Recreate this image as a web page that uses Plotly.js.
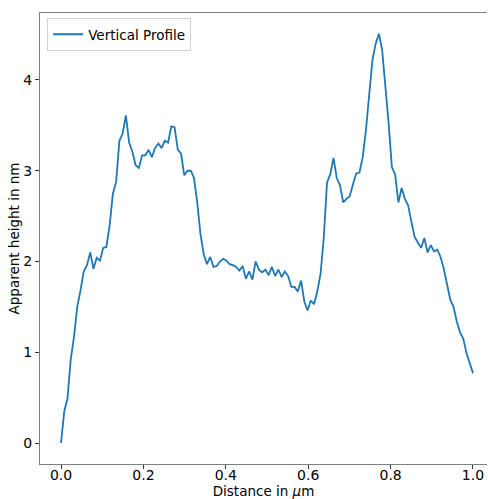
<!DOCTYPE html>
<html>
<head>
<meta charset="utf-8">
<script src="https://cdn.plot.ly/plotly-3.0.1.min.js"></script>
<style>html,body{margin:0;padding:0;background:#fff;}#chart{width:488px;height:499px;}</style>
</head>
<body>
<div id="chart"></div>
<script>
const seriesName = "Vertical Profile";
const distance = [
0.0000,0.0079,0.0157,0.0236,0.0315,0.0394,0.0472,0.0551,0.0630,0.0709,
0.0787,0.0866,0.0945,0.1024,0.1102,0.1181,0.1260,0.1339,0.1417,0.1496,
0.1575,0.1654,0.1732,0.1811,0.1890,0.1969,0.2047,0.2126,0.2205,0.2283,
0.2362,0.2441,0.2520,0.2598,0.2677,0.2756,0.2835,0.2913,0.2992,0.3071,
0.3150,0.3228,0.3307,0.3386,0.3465,0.3543,0.3622,0.3701,0.3780,0.3858,
0.3937,0.4016,0.4094,0.4173,0.4252,0.4331,0.4409,0.4488,0.4567,0.4646,
0.4724,0.4803,0.4882,0.4961,0.5039,0.5118,0.5197,0.5276,0.5354,0.5433,
0.5512,0.5591,0.5669,0.5748,0.5827,0.5906,0.5984,0.6063,0.6142,0.6220,
0.6299,0.6378,0.6457,0.6535,0.6614,0.6693,0.6772,0.6850,0.6929,0.7008,
0.7087,0.7165,0.7244,0.7323,0.7402,0.7480,0.7559,0.7638,0.7717,0.7795,
0.7874,0.7953,0.8031,0.8110,0.8189,0.8268,0.8346,0.8425,0.8504,0.8583,
0.8661,0.8740,0.8819,0.8898,0.8976,0.9055,0.9134,0.9213,0.9291,0.9370,
0.9449,0.9528,0.9606,0.9685,0.9764,0.9843,0.9921,1.0000];
const height = [
0.00,0.35,0.49,0.92,1.17,1.50,1.68,1.89,1.96,2.10,
1.92,2.04,2.01,2.15,2.16,2.40,2.75,2.88,3.33,3.41,
3.61,3.31,3.21,3.06,3.03,3.17,3.17,3.23,3.15,3.25,
3.30,3.25,3.33,3.31,3.49,3.48,3.23,3.19,2.95,3.00,
3.00,2.92,2.65,2.30,2.08,1.97,2.05,1.94,1.95,2.00,
2.03,2.01,1.97,1.96,1.94,1.90,1.95,1.81,1.89,1.80,
2.00,1.91,1.88,1.91,1.85,1.94,1.84,1.91,1.83,1.89,
1.84,1.72,1.72,1.67,1.79,1.56,1.46,1.57,1.53,1.67,
1.86,2.26,2.87,2.96,3.14,2.92,2.84,2.65,2.69,2.72,
2.85,2.97,2.98,3.15,3.45,3.82,4.22,4.40,4.51,4.33,
3.96,3.52,3.04,2.96,2.65,2.81,2.69,2.62,2.44,2.27,
2.21,2.15,2.26,2.10,2.18,2.11,2.13,2.05,1.92,1.76,
1.58,1.50,1.34,1.22,1.15,0.99,0.88,0.77];
const xTicks = [0.0,0.2,0.4,0.6,0.8,1.0];
const yTicks = [0,1,2,3,4];
const xLabel = "Distance in <i>μ</i>m";
const yLabel = "Apparent height in nm";

const font = {family: "DejaVu Sans, sans-serif", size: 13.5, color: "#000"};
const tickFont = {family: "DejaVu Sans, sans-serif", size: 14, color: "#000"};
Plotly.newPlot("chart", [{
  x: distance, y: height, type: "scatter", mode: "lines", name: seriesName,
  line: {color: "#1f77b4", width: 1.8}
}], {
  width: 488, height: 499,
  margin: {l: 40, r: 1, t: 13, b: 35, pad: 0},
  paper_bgcolor: "#fff", plot_bgcolor: "#fff",
  font: font,
  showlegend: true,
  legend: {x: 0.016, y: 0.989, xanchor: "left", yanchor: "top", bgcolor: "#fff",
           bordercolor: "#d0d0d0", borderwidth: 1, font: font},
  xaxis: {range: [-0.051, 1.034], tickvals: xTicks, ticktext: xTicks.map(v => v.toFixed(1)),
          ticks: "outside", ticklen: 4, tickcolor: "#333", showgrid: false, zeroline: false,
          ticklabelstandoff: -6, tickfont: tickFont,
          showline: true, linecolor: "#808080", linewidth: 1, mirror: true,
          title: {text: xLabel, font: font, standoff: 2}},
  yaxis: {range: [-0.231, 4.738], tickvals: yTicks, ticktext: yTicks.map(String),
          ticks: "outside", ticklen: 4, tickcolor: "#333", showgrid: false, zeroline: false,
          tickfont: tickFont,
          showline: true, linecolor: "#808080", linewidth: 1, mirror: false,
          title: {text: yLabel, font: font, standoff: 0}}
}, {staticPlot: true, displayModeBar: false});
</script>
</body>
</html>
